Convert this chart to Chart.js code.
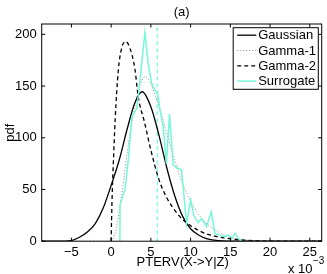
<!DOCTYPE html>
<html>
<head>
<meta charset="utf-8">
<script src="https://cdn.jsdelivr.net/npm/chart.js@4.4.1/dist/chart.umd.min.js"></script>
<style>
  html, body { margin: 0; padding: 0; background: #fff; }
  #wrap { width: 327px; height: 274px; position: relative; }
</style>
</head>
<body>
<div id="wrap"><canvas id="pdf-chart"></canvas></div>
<script>
// Axis ranges and ticks (x values are in units of 1e-3)
const X_MIN = -8.74;
const X_MAX = 26.5;
const Y_MIN = 0;
const Y_MAX = 210;
const xTickValues = [-5, 0, 5, 10, 15, 20, 25];
const xTickLabels = ["\u22125", "0", "5", "10", "15", "20", "25"];
const yTickValues = [0, 50, 100, 150, 200];
const yTickLabels = ["0", "50", "100", "150", "200"];

// Series names
const seriesNames = ["Gaussian", "Gamma-1", "Gamma-2", "Surrogate"];

// Gaussian fit
const gaussX = [-8.7, -7, -6, -5, -4, -3, -2, -1, 0, 1, 2, 3, 3.9, 5, 6, 7, 8, 9, 10, 11, 12, 13, 14, 16, 20, 26.5];
const gaussY = [0, 0.02, 0.1, 0.6, 3.8, 9, 17, 32, 54, 78, 108, 134, 144.5, 130, 103, 71, 44, 24, 12, 6, 2.5, 1, 0.3, 0.05, 0, 0];

// Gamma-1 fit
const gamma1X = [-8.7, 0, 0.5, 1, 1.5, 2, 2.5, 3, 3.5, 4.25, 5, 5.9, 6.5, 7.6, 8.5, 9.5, 10.5, 11.5, 12.5, 13.5, 14.5, 15.5, 16.5, 17.5, 19, 21, 26.5];
const gamma1Y = [0, 0, 8, 28, 55, 84, 110, 131, 148, 159, 152, 133, 118, 88, 66, 46, 32, 21, 14, 9, 5, 3, 1.5, 0.8, 0.2, 0, 0];

// Gamma-2 fit
const gamma2X = [0, 0.05, 0.15, 0.3, 0.5, 0.9, 1.3, 1.8, 2.3, 3.0, 3.4, 4.2, 5.0, 6.0, 7.0, 8.0, 9.0, 10, 11, 12, 13, 14, 16, 18, 20, 26.5];
const gamma2Y = [0, 20, 50, 80, 117, 165, 186, 193, 188, 166, 140, 115, 88, 60, 42, 30, 21, 15, 10.5, 7, 5, 3.5, 1.5, 0.5, 0, 0];

// Surrogate histogram
const surrX = [1.1, 1.12, 1.5, 1.75, 2.15, 2.6, 3.2, 3.5, 3.8, 4.25, 4.65, 5.1, 5.5, 5.85, 6.15, 6.55, 6.95, 7.35, 7.8, 8.25, 8.85, 9.5, 10.0, 10.4, 10.95, 11.4, 12.0, 12.6, 13.05, 14.3, 14.7, 15.2, 15.6, 16.0, 16.4];
const surrY = [0, 35, 45, 50, 78, 120, 128, 145, 168, 202, 172, 153, 146, 143, 127, 111, 75, 123, 74, 71, 69, 17, 40, 25, 18, 22, 14, 28.5, 7.6, 4.4, 6, 2.8, 7.6, 2.8, 0];

// Surrogate mean marker (vertical dashed line)
const meanX = [5.8, 5.8];
const meanY = [0, 210];

const CYAN = "#74f7d9";
const FONT = "'Liberation Sans', Arial, sans-serif";

function toPoints(xs, ys) {
  return xs.map((x, i) => ({ x: x, y: ys[i] }));
}

// Draws the MATLAB-style box, inward ticks, labels and legend
const matlabFrame = {
  id: "matlabFrame",
  afterDraw(chart) {
    const ctx = chart.ctx;
    const area = chart.chartArea;
    const xs = chart.scales.x;
    const ys = chart.scales.y;
    const tick = 3.5;

    ctx.save();
    ctx.strokeStyle = "#000";
    ctx.lineWidth = 1;

    // Box
    ctx.strokeRect(area.left, area.top, area.right - area.left, area.bottom - area.top);

    // Inward ticks on all four sides
    ctx.beginPath();
    xTickValues.forEach(v => {
      const px = xs.getPixelForValue(v);
      ctx.moveTo(px, area.bottom); ctx.lineTo(px, area.bottom - tick);
      ctx.moveTo(px, area.top); ctx.lineTo(px, area.top + tick);
    });
    yTickValues.forEach(v => {
      const py = ys.getPixelForValue(v);
      ctx.moveTo(area.left, py); ctx.lineTo(area.left + tick, py);
      ctx.moveTo(area.right, py); ctx.lineTo(area.right - tick, py);
    });
    ctx.stroke();

    ctx.fillStyle = "#000";
    const midX = (area.left + area.right) / 2;

    // Title
    ctx.font = "13px " + FONT;
    ctx.textAlign = "center";
    ctx.textBaseline = "middle";
    ctx.fillText("(a)", midX, 12);

    // Axis titles
    ctx.fillText("PTERV(X->Y|Z)", midX + 1, 262.5);
    ctx.save();
    ctx.translate(10, (area.top + area.bottom) / 2);
    ctx.rotate(-Math.PI / 2);
    ctx.fillText("pdf", 0, 0);
    ctx.restore();

    // Exponent note
    ctx.textAlign = "left";
    ctx.textBaseline = "alphabetic";
    ctx.fillText("x 10", 288, 273);
    ctx.font = "10px " + FONT;
    ctx.fillText("\u22123", 313, 264);

    // Legend
    const lx0 = area.right - 88.5;
    const lx1 = area.right - 3.4;
    const ly0 = area.top + 3.7;
    const ly1 = area.top + 65.3;
    ctx.fillStyle = "#fff";
    ctx.fillRect(lx0, ly0, lx1 - lx0, ly1 - ly0);
    ctx.strokeRect(lx0, ly0, lx1 - lx0, ly1 - ly0);

    ctx.font = "13px " + FONT;
    ctx.textBaseline = "middle";
    chart.data.datasets.slice(0, 4).forEach((ds, i) => {
      const y = ly0 + 7.5 + i * 15.3;
      ctx.save();
      ctx.strokeStyle = ds.borderColor;
      ctx.lineWidth = ds.borderWidth;
      ctx.setLineDash(ds.borderDash || []);
      ctx.beginPath();
      ctx.moveTo(lx0 + 4, y);
      ctx.lineTo(lx0 + 23, y);
      ctx.stroke();
      ctx.restore();
      ctx.fillStyle = "#000";
      ctx.fillText(ds.label, lx0 + 25, y + 0.5);
    });

    ctx.restore();
  }
};

document.addEventListener("DOMContentLoaded", () => {
  const ctx = document.getElementById("pdf-chart").getContext("2d");

  const lineBase = {
    pointRadius: 0,
    fill: false,
    showLine: true
  };

  new Chart(ctx, {
    type: "scatter",
    data: {
      datasets: [
        Object.assign({}, lineBase, {
          label: seriesNames[0],
          data: toPoints(gaussX, gaussY),
          borderColor: "#000",
          borderWidth: 1.3,
          cubicInterpolationMode: "monotone",
          order: 2
        }),
        Object.assign({}, lineBase, {
          label: seriesNames[1],
          data: toPoints(gamma1X, gamma1Y),
          borderColor: "#888",
          borderWidth: 1,
          borderDash: [1, 2],
          cubicInterpolationMode: "monotone",
          order: 3
        }),
        Object.assign({}, lineBase, {
          label: seriesNames[2],
          data: toPoints(gamma2X, gamma2Y),
          borderColor: "#000",
          borderWidth: 1.3,
          borderDash: [4, 3],
          cubicInterpolationMode: "monotone",
          order: 4
        }),
        Object.assign({}, lineBase, {
          label: seriesNames[3],
          data: toPoints(surrX, surrY),
          borderColor: CYAN,
          borderWidth: 1.5,
          tension: 0,
          order: 1
        }),
        Object.assign({}, lineBase, {
          label: "mean",
          data: toPoints(meanX, meanY),
          borderColor: CYAN,
          borderWidth: 1.2,
          borderDash: [4, 3],
          tension: 0,
          order: 5
        })
      ]
    },
    options: {
      responsive: true,
      maintainAspectRatio: false,
      animation: false,
      layout: { padding: { top: 24, right: 5.3, left: 0, bottom: 0 } },
      plugins: {
        legend: { display: false },
        tooltip: { enabled: false }
      },
      scales: {
        x: {
          type: "linear",
          min: X_MIN,
          max: X_MAX,
          grid: { display: false, drawTicks: false },
          border: { display: false },
          afterBuildTicks: scale => {
            scale.ticks = xTickValues.map(v => ({ value: v }));
          },
          afterFit: scale => { scale.height = 32.8; },
          ticks: {
            padding: 3,
            color: "#000",
            maxRotation: 0,
            font: { family: FONT, size: 13 },
            callback: v => xTickLabels[xTickValues.indexOf(v)]
          }
        },
        y: {
          type: "linear",
          min: Y_MIN,
          max: Y_MAX,
          grid: { display: false, drawTicks: false },
          border: { display: false },
          afterBuildTicks: scale => {
            scale.ticks = yTickValues.map(v => ({ value: v }));
          },
          afterFit: scale => { scale.width = 41.7; },
          ticks: {
            padding: 5,
            color: "#000",
            font: { family: FONT, size: 13 },
            callback: v => yTickLabels[yTickValues.indexOf(v)]
          }
        }
      }
    },
    plugins: [matlabFrame]
  });
});
</script>
</body>
</html>
